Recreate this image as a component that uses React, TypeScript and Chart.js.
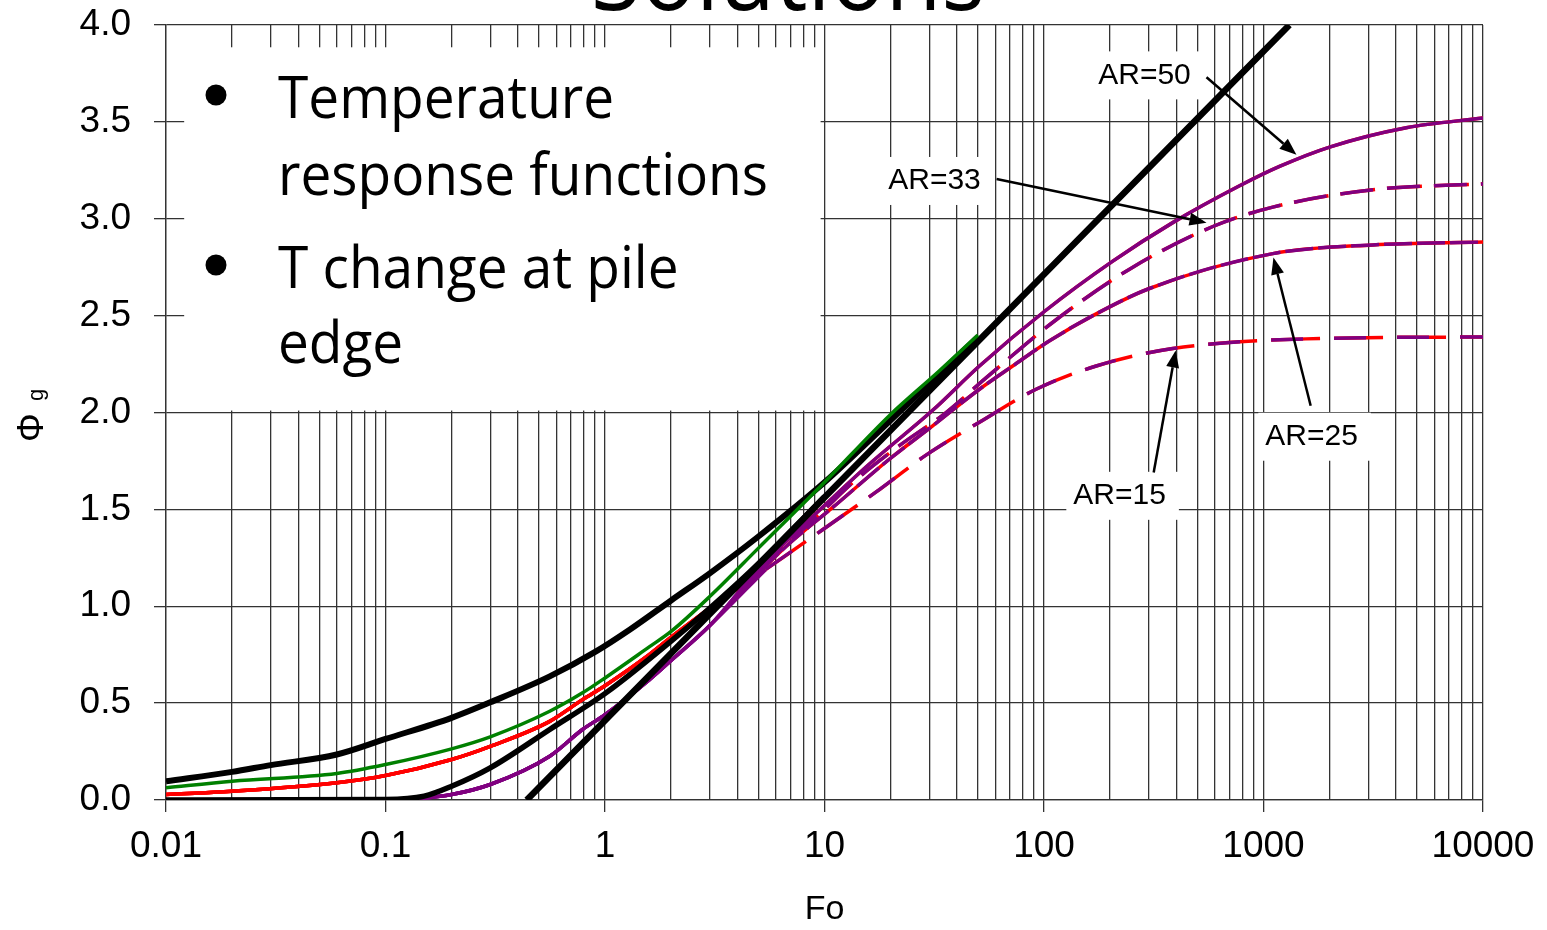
import { useEffect, useRef } from "react";
import { Chart, registerables } from "chart.js";

Chart.register(...registerables);

// ---------------- axis ticks ----------------
const xDecades = [0.01, 0.1, 1, 10, 100, 1000];
const xMinorMultipliers = [1, 2, 3, 4, 5, 6, 7, 8, 9];
const xMajorValues = [0.01, 0.1, 1, 10, 100, 1000, 10000];
const xTickLabels = ["0.01", "0.1", "1", "10", "100", "1000", "10000"];
const yTickValues = [0, 0.5, 1, 1.5, 2, 2.5, 3, 3.5, 4];
const yTickLabels = ["0.0", "0.5", "1.0", "1.5", "2.0", "2.5", "3.0", "3.5", "4.0"];

// ---------------- black curves ----------------
const asymptoteFo = [0.44, 1312];
const asymptotePhi = [0, 4.0];

const ilsFo = [0.01, 0.02, 0.03, 0.06, 0.1, 0.2, 0.3, 0.56, 0.91, 1.3, 2, 3, 5, 10, 20, 50];
const ilsPhi = [0.097, 0.145, 0.18, 0.235, 0.315, 0.424, 0.504, 0.638, 0.767, 0.88, 1.03, 1.17, 1.36, 1.64, 1.96, 2.39];

const midBlackFo = [0.01, 0.1, 0.15, 0.2, 0.3, 0.56, 1.01, 2, 3, 5, 10];
const midBlackPhi = [0, 0.003, 0.02, 0.071, 0.166, 0.364, 0.553, 0.82, 0.99, 1.22, 1.565];

// ---------------- green curve ----------------
const greenFo = [0.01, 0.02, 0.06, 0.1, 0.2, 0.3, 0.56, 0.79, 1, 1.59, 2, 3, 5, 10, 20, 33, 50];
const greenPhi = [0.063, 0.097, 0.137, 0.183, 0.264, 0.326, 0.458, 0.553, 0.63, 0.79, 0.87, 1.05, 1.3, 1.64, 1.99, 2.21, 2.4];

// ---------------- early-time parts (shared by all AR) ----------------
const redLowFo = [0.01, 0.02, 0.06, 0.1, 0.2, 0.3, 0.56, 0.79, 1, 1.59, 2, 3];
const redLowPhi = [0.028, 0.045, 0.089, 0.126, 0.209, 0.277, 0.406, 0.518, 0.59, 0.75, 0.84, 0.99];
const purpleLowFo = [0.1, 0.15, 0.2, 0.3, 0.56, 0.79, 1, 1.59, 2, 3];
const purpleLowPhi = [0, 0.01, 0.028, 0.08, 0.226, 0.364, 0.44, 0.62, 0.72, 0.9];

// ---------------- late-time parts by aspect ratio ----------------
const ar50Fo = [5, 7.7, 10, 15.5, 31, 50.8, 100, 205, 386, 778, 1183, 2000, 4470, 10000];
const ar50Phi = [1.2, 1.4, 1.52, 1.72, 2.01, 2.24, 2.52, 2.78, 2.98, 3.17, 3.27, 3.37, 3.47, 3.52];
const ar33Fo = [5, 10, 13.5, 22, 35.8, 54.6, 114, 254, 588, 1102, 3150, 10000];
const ar33Phi = [1.18, 1.5, 1.64, 1.83, 2.0, 2.18, 2.48, 2.75, 2.96, 3.06, 3.15, 3.18];
const ar25Fo = [5, 6.7, 10.9, 19.8, 31, 50.8, 72, 106, 167, 302, 1102, 3150, 10000];
const ar25Phi = [1.17, 1.31, 1.51, 1.76, 1.93, 2.12, 2.24, 2.37, 2.5, 2.64, 2.82, 2.865, 2.88];
const ar15Fo = [5.4, 9.8, 17.2, 29, 50.8, 92, 173, 386, 1560, 10000];
const ar15Phi = [1.19, 1.395, 1.59, 1.78, 1.95, 2.12, 2.24, 2.33, 2.38, 2.39];

// ---------------- annotations (data units) ----------------
const labelTexts = ["AR=50", "AR=33", "AR=25", "AR=15"];
const labelFo = [287, 31.7, 1656, 221];
const labelPhi = [3.74, 3.195, 1.875, 1.57];
const arrowFromFo = [550, 60.8, 1640, 316];
const arrowFromPhi = [3.73, 3.205, 2.035, 1.69];
const arrowToFo = [1413, 550, 1110, 398];
const arrowToPhi = [3.33, 2.98, 2.8, 2.32];

const noteBoxFo = [0.0121, 9.6];
const noteBoxPhi = [3.885, 2.01];
const bulletLines = ["Temperature", "response functions", "T change at pile", "edge"];

const TICK_FONT = '"Liberation Sans", Arial, sans-serif';
const GRID = "#333333";
const PURPLE = "#800080";
const RED = "#ff0000";

const pts = (xs: number[], ys: number[]) => xs.map((x, i) => ({ x, y: ys[i] }));
const isMajor = (v: number) => {
  const l = Math.log10(v);
  return Math.abs(l - Math.round(l)) < 1e-6;
};

const xGridValues: number[] = [];
xDecades.forEach((d) => xMinorMultipliers.forEach((m) => xGridValues.push(d * m)));
xGridValues.push(10000);

function line(label: string, xs: number[], ys: number[], color: string, width: number, order: number, dash: number[] = []) {
  return {
    label,
    data: pts(xs, ys),
    borderColor: color,
    backgroundColor: color,
    borderWidth: width,
    borderDash: dash,
    pointRadius: 0,
    fill: false,
    order,
    cubicInterpolationMode: "monotone",
    borderJoinStyle: "round",
  };
}

function drawArrow(ctx: CanvasRenderingContext2D, x1: number, y1: number, x2: number, y2: number) {
  const ang = Math.atan2(y2 - y1, x2 - x1);
  const head = 17;
  const half = 6.5;
  const bx = x2 - head * Math.cos(ang);
  const by = y2 - head * Math.sin(ang);
  ctx.strokeStyle = "#000";
  ctx.fillStyle = "#000";
  ctx.lineWidth = 2.5;
  ctx.beginPath();
  ctx.moveTo(x1, y1);
  ctx.lineTo(bx, by);
  ctx.stroke();
  ctx.beginPath();
  ctx.moveTo(x2, y2);
  ctx.lineTo(bx + half * Math.sin(ang), by - half * Math.cos(ang));
  ctx.lineTo(bx - half * Math.sin(ang), by + half * Math.cos(ang));
  ctx.closePath();
  ctx.fill();
}

const overlayPlugin = {
  id: "overlay",
  beforeDatasetsDraw(chart: any) {
    const { ctx, scales } = chart;
    const x = scales.x;
    const y = scales.y;
    ctx.save();
    ctx.fillStyle = "#fff";
    const bx0 = x.getPixelForValue(noteBoxFo[0]);
    const bx1 = x.getPixelForValue(noteBoxFo[1]);
    const by0 = y.getPixelForValue(noteBoxPhi[0]);
    const by1 = y.getPixelForValue(noteBoxPhi[1]);
    ctx.fillRect(bx0, by0, bx1 - bx0, by1 - by0);
    ctx.font = `30px ${TICK_FONT}`;
    labelTexts.forEach((t, i) => {
      const cx = x.getPixelForValue(labelFo[i]);
      const cy = y.getPixelForValue(labelPhi[i]);
      const w = ctx.measureText(t).width;
      ctx.fillRect(cx - w / 2 - 7, cy - 24, w + 20, 48);
    });
    ctx.restore();
  },
  afterDatasetsDraw(chart: any) {
    const { ctx, scales, chartArea } = chart;
    const x = scales.x;
    const y = scales.y;
    ctx.save();
    ctx.fillStyle = "#000";
    ctx.font = `30px ${TICK_FONT}`;
    ctx.textAlign = "center";
    ctx.textBaseline = "middle";
    labelTexts.forEach((t, i) => {
      ctx.fillText(t, x.getPixelForValue(labelFo[i]), y.getPixelForValue(labelPhi[i]));
      drawArrow(
        ctx,
        x.getPixelForValue(arrowFromFo[i]),
        y.getPixelForValue(arrowFromPhi[i]),
        x.getPixelForValue(arrowToFo[i]),
        y.getPixelForValue(arrowToPhi[i])
      );
    });

    // bullet text
    const textX = chartArea.left + 112;
    ctx.textAlign = "left";
    ctx.textBaseline = "alphabetic";
    ctx.font = `58px "Open Sans", "Noto Sans", sans-serif`;
    const sx = 490 / ctx.measureText(bulletLines[1]).width;
    const baselines = [118, 195, 288, 363];
    bulletLines.forEach((t, i) => {
      ctx.save();
      ctx.translate(textX, baselines[i]);
      ctx.scale(sx, 1);
      ctx.fillText(t, 0, 0);
      ctx.restore();
    });
    [95, 265].forEach((cy) => {
      ctx.beginPath();
      ctx.arc(chartArea.left + 50, cy, 10.5, 0, Math.PI * 2);
      ctx.fill();
    });

    // title (cut off at the top edge)
    ctx.font = `100px "Open Sans", "Noto Sans", sans-serif`;
    const tw = ctx.measureText("Solutions").width;
    ctx.save();
    ctx.translate(591, 10);
    ctx.scale(394 / tw, 1);
    ctx.fillText("Solutions", 0, 0);
    ctx.restore();

    // x title
    ctx.font = `34px ${TICK_FONT}`;
    ctx.textAlign = "center";
    ctx.textBaseline = "middle";
    ctx.fillText("Fo", (chartArea.left + chartArea.right) / 2, 910);

    // y title: Φ g (rotated)
    ctx.save();
    ctx.translate(43, 442);
    ctx.rotate(-Math.PI / 2);
    ctx.textAlign = "left";
    ctx.textBaseline = "alphabetic";
    ctx.font = `36px ${TICK_FONT}`;
    ctx.fillText("Φ", 0, 0);
    ctx.font = `22px ${TICK_FONT}`;
    ctx.fillText("g", 41, 0);
    ctx.restore();

    ctx.restore();
  },
};

export default function App() {
  const ref = useRef<HTMLCanvasElement>(null);
  useEffect(() => {
    document.body.style.margin = "0";
    const tails: [number[], number[], number[], number[]][] = [
      // Fo, Phi, purple dash, red dash
      [ar50Fo, ar50Phi, [], []],
      [ar33Fo, ar33Phi, [33, 14], [35, 12]],
      [ar25Fo, ar25Phi, [28, 5], []],
      [ar15Fo, ar15Phi, [32, 31], [49, 14]],
    ];
    const arNames = ["AR=50", "AR=33", "AR=25", "AR=15"];
    const datasets: any[] = [
      line("Asymptote", asymptoteFo, asymptotePhi, "#000", 6.5, 0),
      line("Line source", ilsFo, ilsPhi, "#000", 6, 0),
      line("Cylinder", midBlackFo, midBlackPhi, "#000", 5.5, 0),
      line("Green", greenFo, greenPhi, "#008000", 3.5, -1),
    ];
    tails.forEach(([fo, phi, pDash, rDash], i) => {
      datasets.push(
        line(arNames[i] + " ring early", purpleLowFo.concat([fo[0]]), purpleLowPhi.concat([phi[0]]), PURPLE, 3.5, 2)
      );
      datasets.push(line(arNames[i] + " ring", fo, phi, PURPLE, 3.5, 2, pDash));
      datasets.push(line(arNames[i] + " solid early", redLowFo.concat([fo[0]]), redLowPhi.concat([phi[0]]), RED, 3.5, 3));
      datasets.push(line(arNames[i] + " solid", fo, phi, RED, 3.5, 3, rDash));
    });
    const chart = new Chart(ref.current as HTMLCanvasElement, {
      type: "line",
      data: { datasets },
      options: {
        animation: false,
        responsive: false,
        maintainAspectRatio: false,
        layout: { padding: { top: 25, right: 64, left: 0, bottom: 0 } },
        plugins: { legend: { display: false }, tooltip: { enabled: false }, title: { display: false } },
        scales: {
          x: {
            type: "logarithmic",
            min: 0.01,
            max: 10000,
            afterBuildTicks: (s: any) => {
              s.ticks = xGridValues.map((v) => ({ value: v, major: isMajor(v) }));
            },
            afterFit: (s: any) => {
              s.height = 130;
              s.paddingLeft = 0;
              s.paddingRight = 0;
            },
            ticks: {
              autoSkip: false,
              maxRotation: 0,
              minRotation: 0,
              padding: 13,
              color: "#000",
              font: { family: TICK_FONT, size: 37 },
              callback: (v: any) => {
                const val = Number(v);
                if (!isMajor(val)) return "";
                const idx = xMajorValues.findIndex((m) => Math.abs(m - val) / m < 1e-6);
                return idx >= 0 ? xTickLabels[idx] : "";
              },
            },
            grid: {
              color: GRID,
              lineWidth: 1.3,
              tickLength: 12,
              tickColor: (c: any) => (c.tick && isMajor(c.tick.value) ? GRID : "rgba(0,0,0,0)"),
            },
            border: { display: true, color: GRID, width: 1.3 },
          },
          y: {
            type: "linear",
            min: 0,
            max: 4,
            afterBuildTicks: (s: any) => {
              s.ticks = yTickValues.map((v) => ({ value: v }));
            },
            afterFit: (s: any) => {
              s.width = 166;
              s.paddingTop = 0;
              s.paddingBottom = 0;
            },
            ticks: {
              padding: 23,
              color: "#000",
              font: { family: TICK_FONT, size: 37 },
              callback: (v: any) => {
                const idx = yTickValues.findIndex((m) => Math.abs(m - Number(v)) < 1e-6);
                return idx >= 0 ? yTickLabels[idx] : "";
              },
            },
            grid: { color: GRID, lineWidth: 1.3, tickLength: 12, tickColor: GRID },
            border: { display: true, color: GRID, width: 1.3 },
          },
        },
      },
      plugins: [overlayPlugin],
    } as any);
    return () => chart.destroy();
  }, []);
  return (
    <div style={{ width: 1547, height: 930 }}>
      <canvas ref={ref} width={1547} height={930} />
    </div>
  );
}
